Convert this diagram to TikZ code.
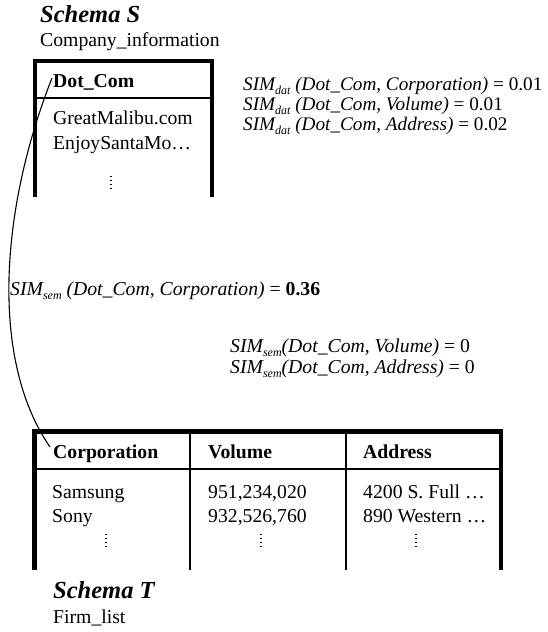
\documentclass[tikz,border=0pt]{standalone}
\usepackage{fontspec}
\setmainfont{Liberation Serif}
\newcommand{\subsc}[1]{\raisebox{-4.5pt}{\fontsize{12}{12}\selectfont #1}}
\begin{document}
\begin{tikzpicture}[x=1pt,y=-1pt,
  txt/.style={anchor=base west,inner sep=0pt,font=\fontsize{19.7}{21}\selectfont},
  simtxt/.style={anchor=base west,inner sep=0pt,font=\fontsize{19.2}{21}\selectfont},
  hdr/.style={txt,font=\fontsize{19.7}{21}\selectfont\bfseries},
  schem/.style={txt,font=\fontsize{24.5}{26}\selectfont\bfseries\itshape},
  dts/.style={line width=1.4pt,dash pattern=on 1.4pt off 2.6pt},
  thickrule/.style={line width=4.2pt,line join=miter},
  thinrule/.style={line width=2pt},
  conn/.style={line width=1.1pt}]
\useasboundingbox (0,0) rectangle (547,632);
% Schema S
\node[schem] (sS) at (40,22) {Schema S};
\node[txt] (sSn) at (40,46) {Company\_information};
\draw[thickrule] (35.3,197) -- (35.3,61.3) -- (212,61.3) -- (212,197);
\draw[thinrule] (35.3,98.3) -- (212,98.3);
\node[hdr] (dotcom) at (53,87) {Dot\_Com};
\node[txt] (s1) at (53,124) {GreatMalibu.com};
\node[txt] (s2) at (53,149) {EnjoySantaMo…};
\coordinate (sdt) at (111,176);
\coordinate (sdb) at (111,190);
\draw[dts] (sdt) -- (sdb);
% SIM dat
\node[simtxt] (d1) at (243,90) {\itshape SIM\subsc{dat} (Dot\_Com, Corporation)\upshape{} = 0.01};
\node[simtxt] (d2) at (243,110) {\itshape SIM\subsc{dat} (Dot\_Com, Volume)\upshape{} = 0.01};
\node[simtxt] (d3) at (243,130) {\itshape SIM\subsc{dat} (Dot\_Com, Address)\upshape{} = 0.02};
% SIM sem
\node[txt] (m1) at (10,295) {\itshape SIM\subsc{sem} (Dot\_Com, Corporation)\upshape{} = \textbf{0.36}};
\node[txt] (m2) at (230,352) {\itshape SIM\subsc{sem}(Dot\_Com, Volume)\upshape{} = 0};
\node[txt] (m3) at (230,373) {\itshape SIM\subsc{sem}(Dot\_Com, Address)\upshape{} = 0};
% Schema T table
\draw[thickrule] (34.5,570) -- (34.5,431.5) -- (501,431.5) -- (501,570);
\draw[thinrule] (34.5,469.3) -- (501,469.3);
\draw[thinrule] (190,431.5) -- (190,570);
\draw[thinrule] (345.7,431.5) -- (345.7,570);
\node[hdr] (corp) at (53,458) {Corporation};
\node[hdr] (vol) at (208,458) {Volume};
\node[hdr] (addr) at (363,458) {Address};
\node[txt] (c1) at (52,498) {Samsung};
\node[txt] (c2) at (52,522) {Sony};
\node[txt] (v1) at (208,498) {951,234,020};
\node[txt] (v2) at (208,522) {932,526,760};
\node[txt] (a1) at (363,498) {4200 S. Full …};
\node[txt] (a2) at (363,522) {890 Western …};
\coordinate (cdt) at (106,534);
\coordinate (cdb) at (106,548);
\coordinate (vdt) at (261,534);
\coordinate (vdb) at (261,548);
\coordinate (adt) at (416,534);
\coordinate (adb) at (416,548);
\draw[dts] (cdt) -- (cdb);
\draw[dts] (vdt) -- (vdb);
\draw[dts] (adt) -- (adb);
\node[schem] (sT) at (53,598) {Schema T};
\node[txt] (sTn) at (53,623) {Firm\_list};
% connector
\coordinate (cs) at ([xshift=-1pt,yshift=9pt]dotcom.base west);
\coordinate (ce) at ([xshift=-3pt,yshift=11pt]corp.base west);
\draw[conn] (cs) .. controls (0,210) and (-10,360) .. (ce);
\end{tikzpicture}
\end{document}
